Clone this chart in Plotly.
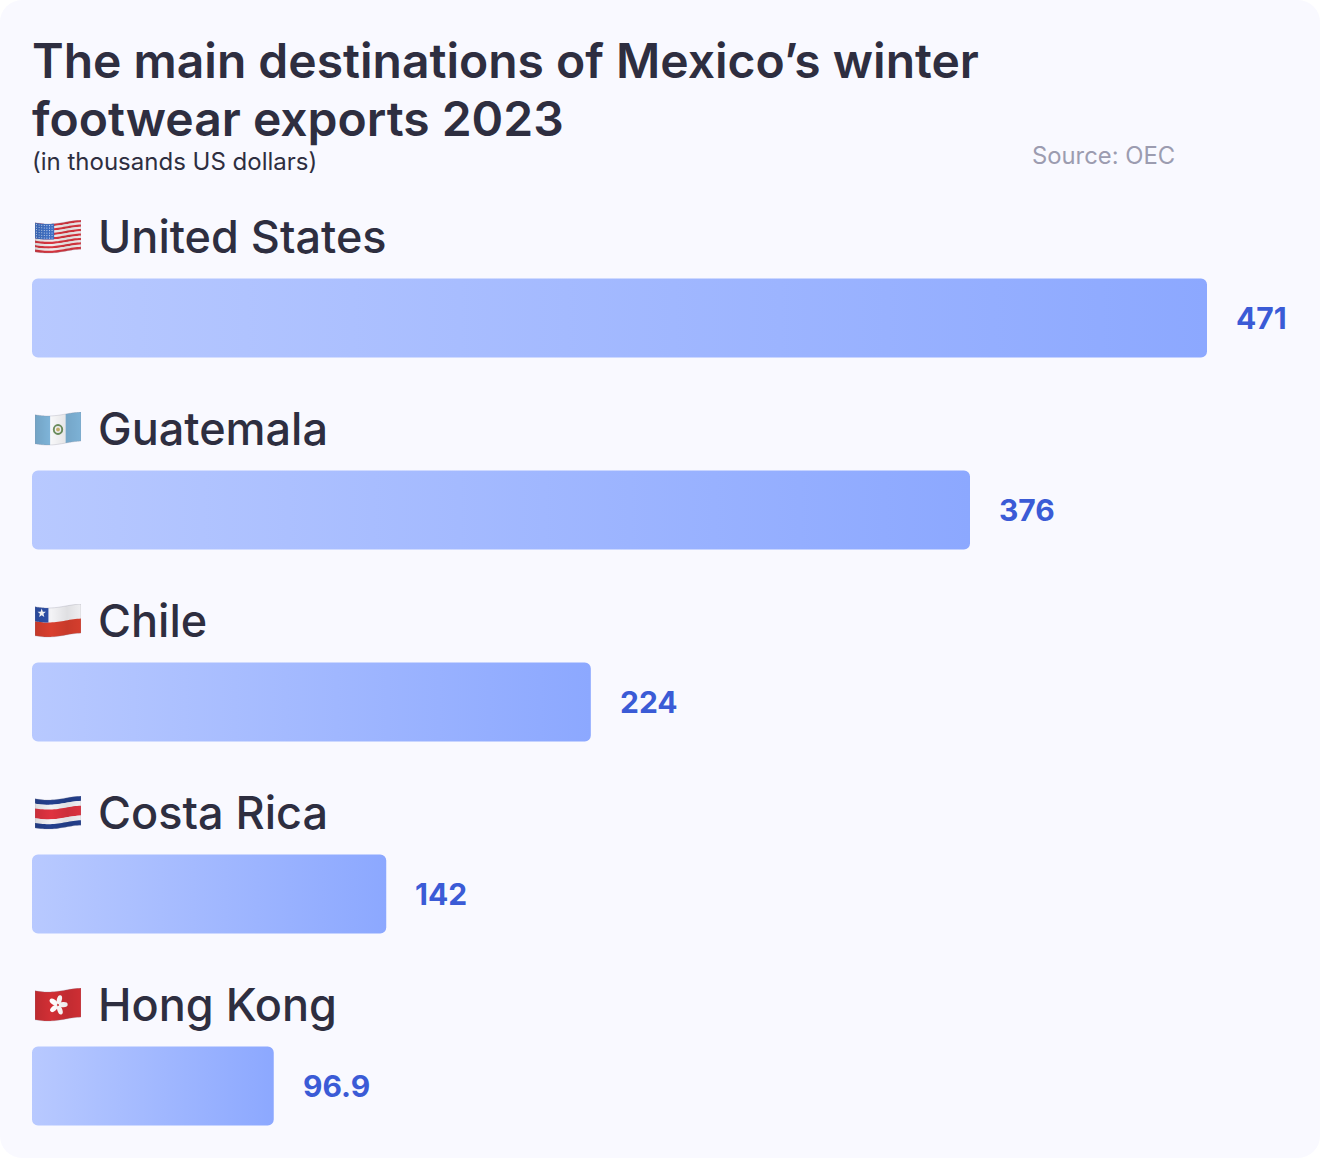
import base64, math
import plotly.graph_objects as go

countries = ["United States", "Guatemala", "Chile", "Costa Rica", "Hong Kong"]
values = [471, 376, 224, 142, 96.9]
value_labels = ["471", "376", "224", "142", "96.9"]
title_line1 = "The main destinations of Mexico’s winter"
title_line2 = "footwear exports 2023"
subtitle_text = "(in thousands US dollars)"
source_text = "Source: OEC"

W, H = 1320, 1158
L, T = 32, 200
PW, PH = W - L, H - T
PX_PER_UNIT = 1175 / 471
BAND = 192
INK = "#2e2e40"
BLUE = "#3b5bd6"
PANEL = "#f9f9ff"
FONT = "Inter"


def wave(t):
    return 2 + 2 * math.sin(math.pi * t * 1.3 + 0.4)


def stripe(y0, y1, col, x0=0.0, x1=48.0, n=24, extra=""):
    ts = [x0 + (x1 - x0) * i / n for i in range(n + 1)]
    top = [(x, y0 + wave(x / 48)) for x in ts]
    bot = [(x, y1 + wave(x / 48)) for x in reversed(ts)]
    pts = " ".join(f"{a:.2f},{b:.2f}" for a, b in top + bot)
    return f'<polygon points="{pts}" fill="{col}" {extra}/>'


def star(cx, cy, r, col="#ffffff"):
    p = []
    for i in range(10):
        rr = r if i % 2 == 0 else r * 0.42
        a = -math.pi / 2 + i * math.pi / 5
        p.append(f"{cx + rr * math.cos(a):.2f},{cy + rr * math.sin(a):.2f}")
    return f'<polygon points="{" ".join(p)}" fill="{col}"/>'


SHADE = ('<defs><linearGradient id="sh" x1="0" x2="1" y1="0" y2="0">'
         '<stop offset="0" stop-color="#000" stop-opacity="0.10"/>'
         '<stop offset="0.35" stop-color="#000" stop-opacity="0"/>'
         '<stop offset="0.7" stop-color="#000" stop-opacity="0.08"/>'
         '<stop offset="1" stop-color="#000" stop-opacity="0.02"/>'
         '</linearGradient></defs>')


def finish(s):
    return (SHADE + s + stripe(0, 29, "url(#sh)")
            + stripe(0, 29, "none", extra='stroke="#8a8a9a" stroke-opacity="0.45" stroke-width="0.6"'))


def flag_us():
    s = ""
    h = 29 / 13
    for i in range(13):
        s += stripe(i * h, (i + 1) * h + 0.1, "#d8353f" if i % 2 == 0 else "#efecec")
    s += stripe(0, 7 * h, "#3f6fc4", 0, 20)
    for r in range(6):
        for c in range(7):
            x = 1.6 + c * 2.7
            y = 1.6 + r * 2.5 + wave(x / 48)
            s += f'<circle cx="{x:.1f}" cy="{y:.1f}" r="0.55" fill="#dfe8f8"/>'
    return finish(s)


def flag_gt():
    s = stripe(0, 29, "#7fb5da", 0, 16) + stripe(0, 29, "#f7f7f9", 16, 32) + stripe(0, 29, "#7fb5da", 32, 48)
    s += '<circle cx="24" cy="17.5" r="4.4" fill="none" stroke="#6d8f5e" stroke-width="2"/>'
    s += '<circle cx="24" cy="17.5" r="2" fill="#c9b36d"/>'
    return finish(s)


def flag_cl():
    s = stripe(0, 14.5, "#f3f3f6") + stripe(14.5, 29, "#d93f2e")
    s += stripe(0, 14.5, "#2d4fa8", 0, 14)
    s += star(7, 9.2, 4.6)
    return finish(s)


def flag_cr():
    s = ""
    for a, b, c in [(0, 4.8, "#24408e"), (4.8, 9.6, "#f3f3f6"), (9.6, 19.4, "#df3340"),
                    (19.4, 24.2, "#f3f3f6"), (24.2, 29, "#24408e")]:
        s += stripe(a, b + 0.1, c)
    return finish(s)


def flag_hk():
    s = stripe(0, 29, "#d22f35")
    for i in range(5):
        a = i * 72 + 15
        s += f'<ellipse cx="24" cy="11.5" rx="2.6" ry="4.6" fill="#ffffff" transform="rotate({a} 24 17)"/>'
    return finish(s)


flags = [flag_us(), flag_gt(), flag_cl(), flag_cr(), flag_hk()]


def uri(body):
    svg = f'<svg xmlns="http://www.w3.org/2000/svg" viewBox="0 0 48 34" width="48" height="34">{body}</svg>'
    return "data:image/svg+xml;base64," + base64.b64encode(svg.encode()).decode()


fig = go.Figure(go.Bar(
    y=countries, x=values, orientation="h",
    marker=dict(color="#a3b8ff", line_width=0),
    hoverinfo="skip",
))

annotations = []
images = []
for i, (c, v, lab) in enumerate(zip(countries, values, value_labels)):
    annotations.append(dict(x=v, y=c, xref="x", yref="y", text=lab, showarrow=False,
                            xanchor="left", yanchor="middle", xshift=27, yshift=0,
                            font=dict(family=FONT, size=30, color=BLUE, weight=700)))
    annotations.append(dict(x=0, y=c, xref="x", yref="y", text=c, showarrow=False,
                            xanchor="left", yanchor="middle", xshift=64, yshift=82,
                            font=dict(family=FONT, size=45, color=INK, weight=500)))
    images.append(dict(source=uri(flags[i]), xref="x", yref="y",
                       x=3 / PX_PER_UNIT, y=i - 98 / BAND,
                       sizex=46 / PX_PER_UNIT, sizey=34 / BAND,
                       sizing="stretch", xanchor="left", yanchor="top", layer="above"))


def px_x(p):
    return (p - L) / PW


def px_y(p):
    return (H - p) / PH


annotations.append(dict(x=px_x(32), y=px_y(118), xref="paper", yref="paper", text=title_line2,
                        showarrow=False, xanchor="left", yanchor="middle", xshift=-2,
                        font=dict(family=FONT, size=48, color=INK, weight=600)))
annotations.append(dict(x=px_x(32), y=px_y(161), xref="paper", yref="paper", text=subtitle_text,
                        showarrow=False, xanchor="left", yanchor="middle", xshift=-2,
                        font=dict(family=FONT, size=24, color=INK, weight=400)))
annotations.append(dict(x=px_x(1032), y=px_y(156), xref="paper", yref="paper", text=source_text,
                        showarrow=False, xanchor="left", yanchor="middle", xshift=-2,
                        font=dict(family=FONT, size=23.8, color="#9c9cb0", weight=400)))

fig.update_layout(
    width=W, height=H,
    margin=dict(l=L, r=0, t=T, b=0, pad=0),
    paper_bgcolor=PANEL, plot_bgcolor=PANEL,
    showlegend=False,
    bargap=1 - 79 / BAND,
    title=dict(text=title_line1, x=32 / W, xanchor="left", xref="container",
               y=1 - 61 / H, yanchor="middle", yref="container",
               font=dict(family=FONT, size=48, color=INK, weight=600)),
    xaxis=dict(range=[0, PW / PX_PER_UNIT], visible=False, fixedrange=True),
    yaxis=dict(type="category", categoryorder="array", categoryarray=countries,
               range=[4 + (H - 1086) / BAND, -(318 - T) / BAND],
               visible=False, fixedrange=True),
    annotations=annotations, images=images,
)

post = """
document.body.style.margin='0';
document.body.style.background='#ffffff';
var gd=document.querySelector('.plotly-graph-div');
gd.style.borderRadius='22px';gd.style.overflow='hidden';
var svg=document.querySelector('.main-svg');
var ns='http://www.w3.org/2000/svg';
var defs=svg.querySelector('defs')||svg.insertBefore(document.createElementNS(ns,'defs'),svg.firstChild);
var g=document.createElementNS(ns,'linearGradient');g.setAttribute('id','barGrad');
[['0%','#b8c9ff'],['100%','#8ca8ff']].forEach(function(a){var s=document.createElementNS(ns,'stop');
s.setAttribute('offset',a[0]);s.setAttribute('stop-color',a[1]);g.appendChild(s);});
defs.appendChild(g);
document.querySelectorAll('.bars .point path').forEach(function(p){
  var b=p.getBBox(),r=6,x=b.x,y=b.y,w=b.width,h=b.height;
  p.setAttribute('d','M'+(x+r)+','+y+'H'+(x+w-r)+'A'+r+','+r+' 0 0 1 '+(x+w)+','+(y+r)+'V'+(y+h-r)+
    'A'+r+','+r+' 0 0 1 '+(x+w-r)+','+(y+h)+'H'+(x+r)+'A'+r+','+r+' 0 0 1 '+x+','+(y+h-r)+'V'+(y+r)+
    'A'+r+','+r+' 0 0 1 '+(x+r)+','+y+'Z');
  p.style.fill='url(#barGrad)';
});
"""
fig.write_html("out.html", post_script=post, config=dict(displayModeBar=False, responsive=False))
